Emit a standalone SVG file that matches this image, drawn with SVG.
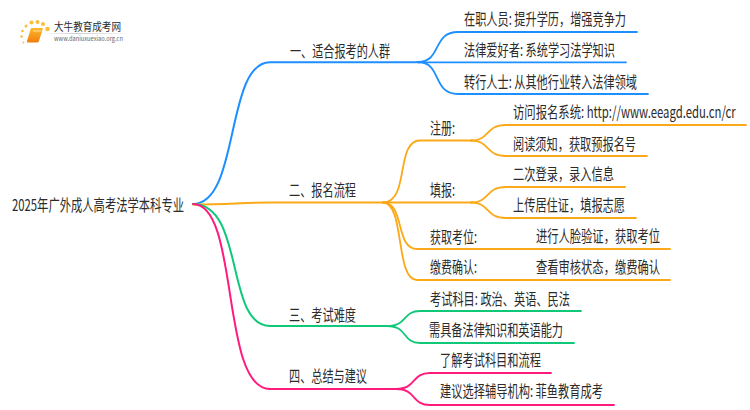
<svg xmlns="http://www.w3.org/2000/svg" width="750" height="410" viewBox="0 0 750 410">
<style>
text{font-family:"Noto Sans CJK SC","Noto Sans",sans-serif;font-size:16px;fill:#2b2b2b}
.c{fill:none;stroke-width:1.8;stroke-linecap:round}
.m{stroke-width:2}
.b{stroke:#1e8fff}.o{stroke:#fba919}.g{stroke:#0fc878}.p{stroke:#ff1a7d}
.dot{fill:#f9bd3a}
</style>
<defs><linearGradient id="fade" x1="0" x2="1" y1="0" y2="0"><stop offset="0" stop-color="#ccc" stop-opacity="0"/><stop offset=".4" stop-color="#ccc"/><stop offset="1" stop-color="#ccc" stop-opacity="0"/></linearGradient>
<linearGradient id="bk" x1="0" x2="0" y1="0" y2="1"><stop offset="0" stop-color="#fdb92e"/><stop offset="1" stop-color="#f07d0c"/></linearGradient></defs>
<rect width="750" height="410" fill="#fff"/>
<g id="logo">
<circle class="dot" cx="47.500" cy="29" r="2.200"/><circle class="dot" cx="43" cy="24" r="2"/><circle class="dot" cx="37.500" cy="22" r="2"/><circle class="dot" cx="31.500" cy="22.500" r="2"/><circle class="dot" cx="26" cy="26" r="1.500"/><circle class="dot" cx="22.500" cy="31" r="1.300"/><circle class="dot" cx="21.500" cy="36.500" r="1.200"/><circle class="dot" cx="23.500" cy="42.500" r="1"/>
<path d="M31 28H43L39 41Q38.500 42.500 37 42.500H28Q26.500 42.500 27 41Z" fill="url(#bk)"/><path d="M33 31H41" stroke="#ffe3a0" stroke-width="1"/>
<rect x="42" y="33" width="90" height="1" fill="url(#fade)"/>
<text x="54" y="31" style="font-size:11px" textLength="67" lengthAdjust="spacingAndGlyphs">大牛教育成考网</text>
<text x="54" y="41" style="font-size:6.500px;fill:#666" textLength="69" lengthAdjust="spacingAndGlyphs">www.daniuxuexiao.org.cn</text>
</g>
<g id="connectors">
<path class="c m b" d="M193 204C240 204 225 62.300 270 62.300H420"/>
<path class="c m o" d="M193 204.500C230 204.500 240 202.500 270 202.500H384"/>
<path class="c m g" d="M193 204C245 204 225 326 270 326H388"/>
<path class="c m p" d="M193 204C240 204 220 389 270 389H398"/>
<path class="c b" d="M418 62C442 62 432 32 458 32H637"/>
<path class="c b" d="M418 62.300H626"/>
<path class="c b" d="M418 62C442 62 432 94 458 94H648"/>
<path class="c o" d="M383 202.500C410 202.500 395 140.500 420 140.500H472"/>
<path class="c o" d="M383 202.500H472"/>
<path class="c o" d="M383 202.500C405 202.500 395 249 417 249H670"/>
<path class="c o" d="M383 202.500C405 202.500 395 280 417 280H670"/>
<path class="c o" d="M471 140.500C490 140.500 485 125 506 125H746"/>
<path class="c o" d="M471 140.500C490 140.500 485 156 506 156H647"/>
<path class="c o" d="M471 202.500C490 202.500 485 187 506 187H625"/>
<path class="c o" d="M471 202.500C490 202.500 485 218 506 218H636"/>
<path class="c g" d="M387 326C408 326 402 311 420 311H581"/>
<path class="c g" d="M387 326C408 326 402 343 420 343H574"/>
<path class="c p" d="M396 389C417 389 411 373 430 373H551"/>
<path class="c p" d="M396 389C417 389 411 405 430 405H614"/>
</g>
<g id="root"><text x="12" y="211" textLength="172" lengthAdjust="spacingAndGlyphs">2025年广外成人高考法学本科专业</text></g>
<g id="n1"><text x="290" y="57" textLength="100" lengthAdjust="spacingAndGlyphs">一、适合报考的人群</text></g>
<g id="n1a"><text x="464" y="25" textLength="162" lengthAdjust="spacingAndGlyphs">在职人员: 提升学历，增强竞争力</text></g>
<g id="n1b"><text x="464" y="56" textLength="151" lengthAdjust="spacingAndGlyphs">法律爱好者: 系统学习法学知识</text></g>
<g id="n1c"><text x="464" y="88" textLength="173" lengthAdjust="spacingAndGlyphs">转行人士: 从其他行业转入法律领域</text></g>
<g id="n2"><text x="289" y="196" textLength="67" lengthAdjust="spacingAndGlyphs">二、报名流程</text></g>
<g id="n21"><text x="430" y="134" textLength="25" lengthAdjust="spacingAndGlyphs">注册:</text></g>
<g id="n21a"><text transform="translate(513 118) scale(.75 1)" textLength="297" lengthAdjust="spacingAndGlyphs">访问报名系统: http://www.eeagd.edu.cn/cr</text></g>
<g id="n21b"><text x="513" y="150" textLength="123" lengthAdjust="spacingAndGlyphs">阅读须知，获取预报名号</text></g>
<g id="n22"><text x="430" y="196" textLength="25" lengthAdjust="spacingAndGlyphs">填报:</text></g>
<g id="n22a"><text x="513" y="180" textLength="101" lengthAdjust="spacingAndGlyphs">二次登录，录入信息</text></g>
<g id="n22b"><text x="513" y="211" textLength="112" lengthAdjust="spacingAndGlyphs">上传居住证，填报志愿</text></g>
<g id="n23"><text x="430" y="243" textLength="47" lengthAdjust="spacingAndGlyphs">获取考位:</text></g>
<g id="n23a"><text x="536" y="242" textLength="124" lengthAdjust="spacingAndGlyphs">进行人脸验证，获取考位</text></g>
<g id="n24"><text x="430" y="273" textLength="47" lengthAdjust="spacingAndGlyphs">缴费确认:</text></g>
<g id="n24a"><text x="536" y="273" textLength="124" lengthAdjust="spacingAndGlyphs">查看审核状态，缴费确认</text></g>
<g id="n3"><text x="289" y="321" textLength="67" lengthAdjust="spacingAndGlyphs">三、考试难度</text></g>
<g id="n3a"><text x="430" y="305" textLength="140" lengthAdjust="spacingAndGlyphs">考试科目: 政治、英语、民法</text></g>
<g id="n3b"><text x="429" y="336" textLength="134" lengthAdjust="spacingAndGlyphs">需具备法律知识和英语能力</text></g>
<g id="n4"><text x="289" y="382" textLength="78" lengthAdjust="spacingAndGlyphs">四、总结与建议</text></g>
<g id="n4a"><text x="440" y="366" textLength="101" lengthAdjust="spacingAndGlyphs">了解考试科目和流程</text></g>
<g id="n4b"><text x="440" y="397" textLength="163" lengthAdjust="spacingAndGlyphs">建议选择辅导机构: 菲鱼教育成考</text></g>
</svg>
